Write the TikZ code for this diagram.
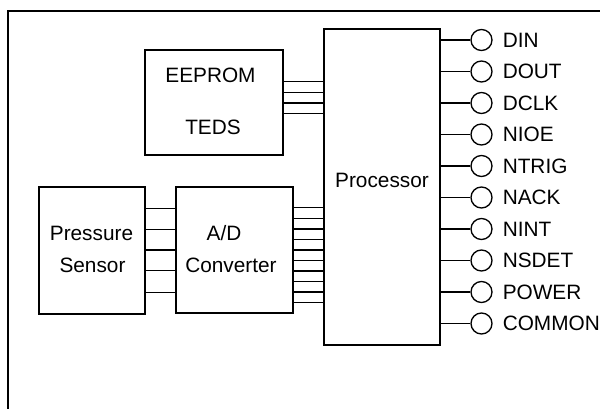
\documentclass[tikz,border=0pt]{standalone}
\usepackage{fontspec}
\setmainfont{Liberation Sans}
\begin{document}
\begin{tikzpicture}[x=0.75pt,y=-0.75pt,
  blk/.style={draw,line width=1pt,inner sep=0pt},
  lbl/.style={inner sep=0pt,anchor=base,font=\fontsize{15.6}{18}\selectfont},
  pinlbl/.style={inner sep=0pt,anchor=base west,font=\fontsize{15.6}{18}\selectfont},
  pinc/.style={draw,circle,line width=1pt,inner sep=0pt,minimum size=15.75pt},
  wire/.style={line width=1pt}]
\useasboundingbox (0,0) rectangle (600,409);
\begin{scope}
\clip (0,0) rectangle (600,409);
\draw[line width=1.6pt] (8,430) -- (8,11) -- (620,11);
\end{scope}
% blocks
\node[blk,minimum width=103.5pt,minimum height=78.75pt] (eeprom) at (214,102.5) {};
\node[lbl] (teeprom) at (210.5,82.4) {EEPROM};
\node[lbl] (tteds) at (213,134.9) {TEDS};
\node[blk,minimum width=79.5pt,minimum height=95.25pt] (sensor) at (92,250.5) {};
\node[lbl] (tpress) at (91.5,240.4) {Pressure};
\node[lbl] (tsens) at (92.5,272.4) {Sensor};
\node[blk,minimum width=87.75pt,minimum height=94.5pt] (adc) at (234.5,250) {};
\node[lbl] (tad) at (224,240.4) {A/D};
\node[lbl] (tconv) at (231,272.4) {Converter};
\node[blk,minimum width=87pt,minimum height=237pt] (proc) at (382,187) {};
\node[lbl] (tproc) at (382,187.4) {Processor};
% EEPROM -> Processor
\foreach \y in {81.7,92.4,103.1,113.6}
  \draw[wire] (eeprom.east |- 0,\y) -- (proc.west |- 0,\y);
% Sensor -> A/D
\foreach \y in {208.3,229.3,250,270.8,292.3}
  \draw[wire] (sensor.east |- 0,\y) -- (adc.west |- 0,\y);
% A/D -> Processor
\foreach \y in {207.8,218.3,228.9,239.4,249.9,260.5,271,281.6,292.1,302.6}
  \draw[wire] (adc.east |- 0,\y) -- (proc.west |- 0,\y);
% pins
\foreach \name [count=\i from 0] in {DIN,DOUT,DCLK,NIOE,NTRIG,NACK,NINT,NSDET,POWER,COMMON}{
  \pgfmathsetmacro{\py}{40+31.5*\i}
  \node[pinc] (c\i) at (481.5,\py) {};
  \draw[wire] (proc.east |- c\i) -- (c\i);
  \node[pinlbl] (l\i) at (502.5,\py+7.4) {\name};
}
\end{tikzpicture}
\end{document}
